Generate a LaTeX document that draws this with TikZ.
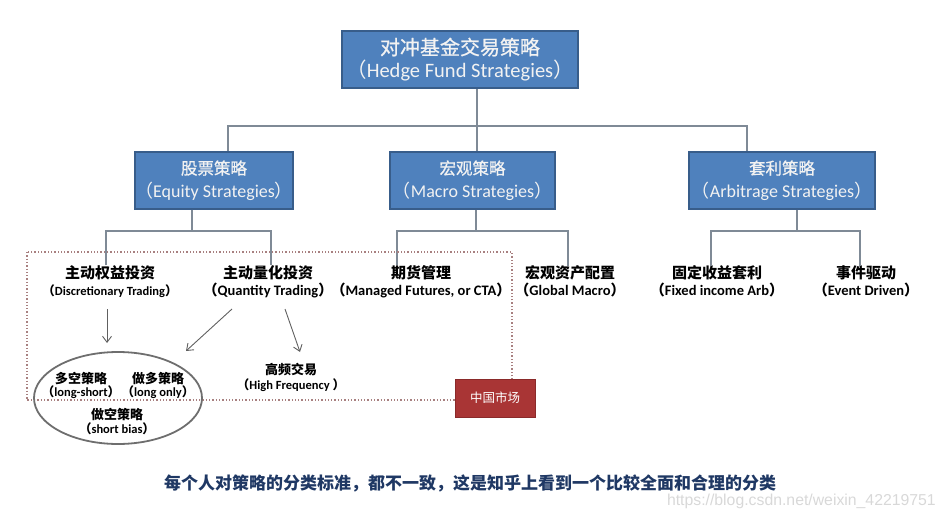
\documentclass[tikz,border=0pt]{standalone}
\usepackage{fontspec}
\setmainfont{Carlito}
\newfontfamily\cjk{Noto Sans CJK SC}
\newfontfamily\cjkm[FakeBold=0.8]{Noto Sans CJK SC}
\newfontfamily\wmfont{Liberation Sans}
\usetikzlibrary{arrows.meta,shapes.geometric}
\definecolor{boxblue}{HTML}{4F81BD}
\definecolor{boxedge}{HTML}{385D8A}
\definecolor{connc}{HTML}{7F8A96}
\definecolor{arrc}{HTML}{606060}
\definecolor{dotc}{HTML}{A88080}
\definecolor{redbox}{HTML}{A93535}
\definecolor{rededge}{HTML}{8A2A2A}
\definecolor{navy}{HTML}{1F3864}
\definecolor{boxtext}{HTML}{F2F2F2}
\definecolor{ellc}{HTML}{6E6E6E}
\definecolor{wmc}{HTML}{D8D8D8}
\newcommand\lp{{\cjk （}}
\newcommand\rp{{\cjk ）}}
\begin{document}
\begin{tikzpicture}[x=1pt,y=-1pt,
  bluebox/.style={draw=boxedge, line width=1.5pt, fill=boxblue, text=boxtext, align=center, inner sep=0pt, minimum height=57pt},
  topfont/.style={font=\fontsize{20.5}{23}\selectfont},
  midfont/.style={font=\fontsize{18}{23}\selectfont},
  childlbl/.style={font=\bfseries\fontsize{14.5}{17}\selectfont, align=center, inner sep=0pt},
  smalllbl/.style={font=\bfseries\fontsize{12.5}{13.5}\selectfont, align=center, inner sep=0pt},
  conn/.style={draw=connc, line width=1.6pt},
  arr/.style={draw=arrc, line width=0.9pt, -{Straight Barb[length=6pt,width=9pt]}},
]
\useasboundingbox (0,0) rectangle (944,521);

% top and middle boxes
\node[bluebox, topfont, minimum width=236pt] (top) at (460,59.5)
  {{\cjkm\fontsize{20}{23}\selectfont 对冲基金交易策略}\\\lp Hedge Fund Strategies\rp};
\node[bluebox, midfont, minimum width=158pt] (eq) at (214,180.5)
  {{\cjkm\fontsize{16.5}{23}\selectfont 股票策略}\\\lp Equity Strategies\rp};
\node[bluebox, midfont, minimum width=165pt] (mac) at (472.5,180.5)
  {{\cjkm\fontsize{16.5}{23}\selectfont 宏观策略}\\\lp Macro Strategies\rp};
\node[bluebox, midfont, minimum width=186pt] (arb) at (782,180.5)
  {{\cjkm\fontsize{16.5}{23}\selectfont 套利策略}\\\lp Arbitrage Strategies\rp};

% children
\node[childlbl] (dt) at (110,281.5)
  {{\cjk\fontsize{15}{17}\selectfont 主动权益投资}\\{\fontsize{12.5}{17}\selectfont\lp Discretionary Trading\rp}};
\node[childlbl] (qt) at (268,281.5)
  {{\cjk\fontsize{15}{17}\selectfont 主动量化投资}\\\lp Quantity Trading\rp};
\node[childlbl] (mf) at (421,281.5)
  {{\cjk\fontsize{15}{17}\selectfont 期货管理}\\\lp Managed Futures, or CTA\rp};
\node[childlbl] (gm) at (570,281.5)
  {{\cjk\fontsize{15}{17}\selectfont 宏观资产配置}\\\lp Global Macro\rp};
\node[childlbl] (fi) at (717,281.5)
  {{\cjk\fontsize{15}{17}\selectfont 固定收益套利}\\\lp Fixed income Arb\rp};
\node[childlbl] (ed) at (866,281.5)
  {{\cjk\fontsize{15}{17}\selectfont 事件驱动}\\\lp Event Driven\rp};

% tree connectors
\coordinate (t0) at (477,126);
\coordinate (tl) at (228,126);
\coordinate (tr) at (747,126);
\draw[conn] (top.south -| t0) -- (mac.north -| t0);
\draw[conn] (eq.north -| tl) -- (tl) -- (tr) -- (arb.north -| tr);

\coordinate (e0) at (192,231);
\coordinate (e1) at (106,231);
\coordinate (e2) at (271,231);
\draw[conn] (eq.south -| e0) -- (e0);
\draw[conn] (dt.north -| e1) -- (e1) -- (e2) -- (qt.north -| e2);

\coordinate (m0) at (476,231);
\coordinate (m1) at (397,231);
\coordinate (m2) at (568,231);
\draw[conn] (mac.south -| m0) -- (m0);
\draw[conn] (mf.north -| m1) -- (m1) -- (m2) -- (gm.north -| m2);

\coordinate (r0) at (797,231);
\coordinate (r1) at (711,231);
\coordinate (r2) at (860,231);
\draw[conn] (arb.south -| r0) -- (r0);
\draw[conn] (fi.north -| r1) -- (r1) -- (r2) -- (ed.north -| r2);

% China market frame
\draw[dotc, dotted, line width=1.3pt] (27,252) rectangle (512,400);

% ellipse group
\node[draw=ellc, line width=1.8pt, ellipse, minimum width=168pt, minimum height=92pt, inner sep=0pt] (ell) at (118,398) {};
\node[smalllbl] (ls) at (81,385.5)
  {{\cjk\fontsize{13}{13.5}\selectfont 多空策略}\\\lp long-short\rp};
\node[smalllbl] (lo) at (158,385.5)
  {{\cjk\fontsize{13}{13.5}\selectfont 做多策略}\\\lp long only\rp};
\node[smalllbl] (sb) at (117,421.5)
  {{\cjk\fontsize{13}{13.5}\selectfont 做空策略}\\\lp short bias\rp};
\node[smalllbl, font=\bfseries\fontsize{12.5}{15}\selectfont] (hf) at (291,377.5)
  {{\cjk\fontsize{13}{15}\selectfont 高频交易}\\\lp High Frequency \rp};

% arrows (from the child labels towards the sub-strategies)
\coordinate (a1s) at (107,309);
\coordinate (a1e) at (107,343);
\coordinate (a2s) at (232,309);
\coordinate (a2e) at (186,351);
\coordinate (a3s) at (285,309);
\coordinate (a3e) at (300,352);
\draw[arr] (a1s) -- (a1e);
\draw[arr] (a2s) -- (a2e);
\draw[arr] (a3s) -- (a3e);

% red box
\node[fill=redbox, draw=rededge, line width=0.8pt, minimum width=80pt, minimum height=38pt, inner sep=0pt, text=white,
  font=\cjk\fontsize{12.5}{14}\selectfont] (cn) at (495,398) {中国市场};

% caption and watermark
\node[text=navy, inner sep=0pt, font=\cjk\bfseries\fontsize{17}{18}\selectfont] (cap) at (470,483)
  {每个人对策略的分类标准，都不一致，这是知乎上看到一个比较全面和合理的分类};
\node[text=wmc, inner sep=0pt, anchor=east, font=\wmfont\fontsize{15.8}{17}\selectfont] (wm) at (936,501)
  {https://blog.csdn.net/weixin\_42219751};
\end{tikzpicture}
\end{document}
